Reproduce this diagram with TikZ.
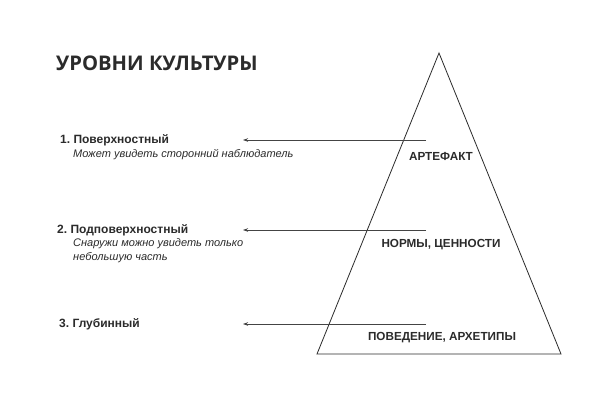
\documentclass[tikz,border=0pt]{standalone}
\usepackage{fontspec}
\setmainfont{Liberation Sans}
\newfontfamily\titlefont{Open Sans}
\usetikzlibrary{arrows.meta}
\definecolor{txt}{HTML}{2B2B2B}
\definecolor{ln}{HTML}{444444}
\begin{document}
\begin{tikzpicture}[x=1pt,y=-1pt,
  lvl/.style={anchor=west,inner sep=0pt,font=\bfseries\fontsize{12}{14}\selectfont,text=txt},
  sub/.style={anchor=west,inner sep=0pt,font=\itshape\fontsize{11}{14}\selectfont,text=txt,align=left},
  pyr/.style={inner sep=0pt,font=\bfseries\fontsize{11.7}{13}\selectfont,text=txt},
  arr/.style={draw=ln,line width=0.8pt,-{Stealth[length=5pt,width=3.5pt]}}]
\useasboundingbox (0,0) rectangle (595,420);
\fill[white] (0,0) rectangle (595,420);
\node[anchor=west,inner sep=0pt,font=\titlefont\bfseries\fontsize{20.2}{22}\selectfont,text=txt] (title) at (56,63) {УРОВНИ КУЛЬТУРЫ};
% pyramid
\coordinate (apex) at (439,53);
\coordinate (bl) at (317,354);
\coordinate (br) at (561,354);
\draw[line width=0.8pt,draw=txt] (apex) -- (bl) -- (br) -- cycle;
\node[pyr] (art) at (441,156) {АРТЕФАКТ};
\node[pyr] (norm) at (441,245) {НОРМЫ, ЦЕННОСТИ};
\node[pyr] (beh) at (442,338) {ПОВЕДЕНИЕ, АРХЕТИПЫ};
% levels
\node[lvl] (l1) at (60,140) {1.\ Поверхностный};
\node[sub] (s1) at (73,155) {Может увидеть сторонний наблюдатель};
\node[lvl] (l2) at (57,230) {2.\ Подповерхностный};
\node[sub] (s2a) at (73,244) {Снаружи можно увидеть только};
\node[sub] (s2b) at (73,258) {небольшую часть};
\node[lvl] (l3) at (59,324) {3.\ Глубинный};
% arrows
\coordinate (a1s) at (426,140); \coordinate (a1e) at (243,140);
\coordinate (a2s) at (426,230); \coordinate (a2e) at (243,230);
\coordinate (a3s) at (426,324); \coordinate (a3e) at (243,324);
\draw[arr] (a1s) -- (a1e);
\draw[arr] (a2s) -- (a2e);
\draw[arr] (a3s) -- (a3e);
\end{tikzpicture}
\end{document}
